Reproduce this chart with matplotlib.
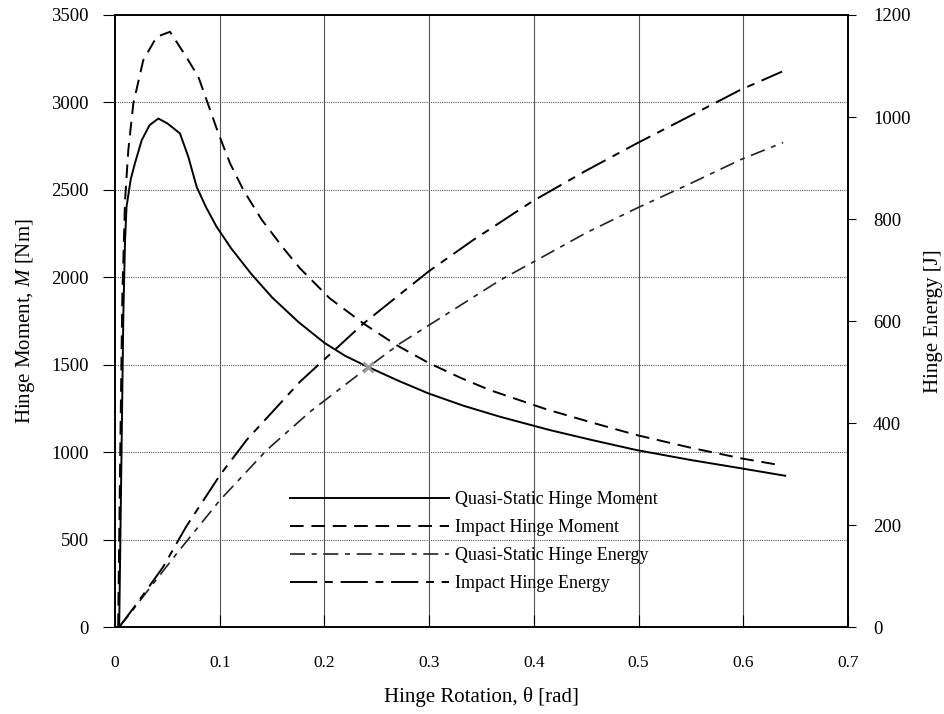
import matplotlib
matplotlib.use("Agg")
import matplotlib.pyplot as plt

plt.rcParams['font.family'] = ['Liberation Serif', 'DejaVu Serif']
plt.rcParams['mathtext.fontset'] = 'custom'
plt.rcParams['mathtext.it'] = 'Liberation Serif:italic'
plt.rcParams['mathtext.rm'] = 'Liberation Serif'

# quasi-static hinge moment [Nm]
theta_qs_m = [0.004, 0.006, 0.008, 0.0096, 0.011, 0.015, 0.019, 0.0255, 0.033, 0.0414,
              0.050, 0.062, 0.070, 0.078, 0.087, 0.097, 0.111, 0.13, 0.15, 0.175,
              0.20, 0.22, 0.24, 0.27, 0.2993, 0.333, 0.368, 0.4155, 0.455, 0.498,
              0.55, 0.5985, 0.64]
m_qs = [0, 900, 1800, 2213, 2403, 2560, 2651, 2784, 2870, 2908,
        2880, 2823, 2689, 2517, 2400, 2289, 2165, 2020, 1885, 1745,
        1625, 1550, 1492, 1410, 1336, 1265, 1202, 1126, 1070, 1012,
        955, 907, 865]

# impact hinge moment [Nm]
theta_im_m = [0.003, 0.005, 0.007, 0.0096, 0.0127, 0.0175, 0.027, 0.0398, 0.0525, 0.068,
              0.0796, 0.0875, 0.0987, 0.11, 0.1226, 0.14, 0.161, 0.1767, 0.205, 0.2372,
              0.268, 0.2993, 0.33, 0.358, 0.412, 0.455, 0.498, 0.55, 0.5985, 0.635]
m_im = [0, 1000, 1900, 2441, 2727, 2994, 3242, 3375, 3404, 3261,
        3146, 3013, 2823, 2650, 2499, 2330, 2165, 2051, 1880, 1736,
        1615, 1511, 1425, 1355, 1245, 1170, 1098, 1025, 964, 926]

# quasi-static hinge energy [J]
theta_qs_e = [0.004, 0.015, 0.030, 0.0589, 0.1003, 0.1449, 0.1862, 0.242, 0.2722, 0.3231,
              0.3677, 0.4059, 0.45, 0.498, 0.55, 0.597, 0.638]
e_qs = [0, 28, 68, 144, 249, 347, 422, 510, 556, 622,
        680, 723, 773, 821, 870, 916, 950]

# impact hinge energy [J]
theta_im_e = [0.004, 0.015, 0.030, 0.046, 0.068, 0.1003, 0.1258, 0.1767, 0.2372, 0.2993,
              0.3422, 0.398, 0.45, 0.498, 0.55, 0.597, 0.637]
e_im = [0, 30, 72, 118, 197, 298, 367, 481, 595, 697,
        759, 834, 895, 948, 1003, 1053, 1089]

# where the quasi-static moment and energy curves cross
cross_theta = 0.242
cross_energy = 510

fig = plt.figure(figsize=(9.45, 7.14), dpi=100)
ax = fig.add_axes([0.1217, 0.1218, 0.7757, 0.8572])
ax2 = ax.twinx()

ax.set_xlim(0, 0.7)
ax.set_ylim(0, 3500)
ax2.set_ylim(0, 1200)

# grid: solid verticals, dotted horizontals
for x in [0.1, 0.2, 0.3, 0.4, 0.5, 0.6]:
    ax.axvline(x, color='#555555', lw=0.8, zorder=1)
for y in [500, 1000, 1500, 2000, 2500, 3000]:
    ax.axhline(y, color='#555555', lw=0.8, ls=(0, (1, 1)), zorder=1)

l1, = ax.plot(theta_qs_m, m_qs, color='black', lw=1.4, label='Quasi-Static Hinge Moment')
l2, = ax.plot(theta_im_m, m_im, color='black', lw=1.4, ls=(0, (7, 4)), label='Impact Hinge Moment')
l3, = ax2.plot(theta_qs_e, e_qs, color='#222222', lw=1.2, ls=(0, (9, 4, 3, 4)),
               label='Quasi-Static Hinge Energy')
l4, = ax2.plot(theta_im_e, e_im, color='black', lw=1.4, ls=(0, (14, 4, 4, 4)),
               label='Impact Hinge Energy')
ax2.plot([cross_theta], [cross_energy], marker='x', ms=7, mew=2, color='#999999', zorder=5)

ax.set_xticks([0, 0.1, 0.2, 0.3, 0.4, 0.5, 0.6, 0.7])
ax.set_xticklabels(['0', '0.1', '0.2', '0.3', '0.4', '0.5', '0.6', '0.7'])
ax.set_yticks(range(0, 3501, 500))
ax2.set_yticks(range(0, 1201, 200))

ax.tick_params(axis='x', direction='in', length=9, width=0.8, pad=20, labelsize=12.5)
ax.tick_params(axis='y', direction='out', length=9, width=0.8, pad=10, labelsize=13.5)
ax2.tick_params(axis='y', direction='out', length=6, width=0.8, pad=12, labelsize=13.5)

for a in (ax, ax2):
    for s in a.spines.values():
        s.set_linewidth(1.2)

ax.set_xlabel('Hinge Rotation, θ [rad]', fontsize=15, labelpad=12)
ax.set_ylabel('Hinge Moment, $M$ [Nm]', fontsize=15, labelpad=10)
ax2.set_ylabel('Hinge Energy [J]', fontsize=15, labelpad=10)

ax.legend(handles=[l1, l2, l3, l4], loc='upper left', bbox_to_anchor=(0.217, 0.248),
          frameon=False, fontsize=13, handlelength=8.8, labelspacing=0.6, handletextpad=0.3)

fig.savefig('out.png', dpi=100)
